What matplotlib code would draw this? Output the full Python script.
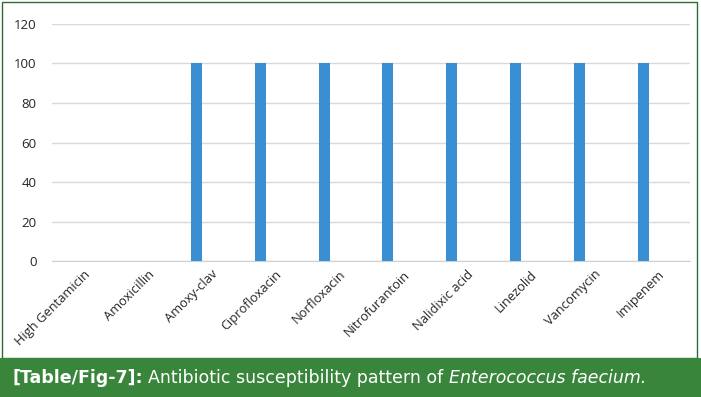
import matplotlib.pyplot as plt
from matplotlib.patches import Rectangle
import numpy as np

# chart data
drugs = ["High Gentamicin", "Amoxicillin", "Amoxy-clav", "Ciprofloxacin",
         "Norfloxacin", "Nitrofurantoin", "Nalidixic acid", "Linezolid",
         "Vancomycin", "Imipenem"]
susceptible = [0, 0, 100, 100, 100, 100, 100, 100, 100, 100]
y_ticks = [0, 20, 40, 60, 80, 100, 120]

bar_color = "#3a8fd3"
green = "#3a853c"

fig = plt.figure(figsize=(7.01, 3.97), dpi=100)
W, H = 701, 397

ax = fig.add_axes([52 / W, 1 - 261 / H, (690 - 52) / W, (261 - 24) / H])
x = np.arange(len(drugs))
ax.bar(x - 0.235, susceptible, width=0.175, color=bar_color, zorder=3)
ax.set_xlim(-0.5, len(drugs) - 0.5)
ax.set_ylim(0, 120)
ax.set_yticks(y_ticks)
ax.set_yticklabels([str(t) for t in y_ticks], fontsize=9.5, color="#262626",
                   family="Open Sans")
ax.set_xticks(x)
ax.set_xticklabels(drugs, rotation=45, ha="right", rotation_mode="anchor",
                   fontsize=9.3, color="#262626", family="Open Sans")
ax.tick_params(axis="both", length=0)
ax.tick_params(axis="y", pad=11)
ax.tick_params(axis="x", pad=5)
ax.grid(axis="y", color="#d9d9d9", linewidth=1, zorder=0)
for s in ["top", "right", "left"]:
    ax.spines[s].set_visible(False)
ax.spines["bottom"].set_color("#d0d0d0")

# outer frame and caption bar
fig.patches.append(Rectangle((2 / W, 1 - 358 / H), 695 / W, 356 / H,
                             transform=fig.transFigure, fill=False,
                             edgecolor="#2f6b35", linewidth=1))
fig.patches.append(Rectangle((0, 0), 1, 39 / H, transform=fig.transFigure,
                             facecolor=green, edgecolor="none"))

fam = ["DejaVu Sans"]
y_cap = 1 - 378 / H
t1 = fig.text(12 / W, y_cap, "[Table/Fig-7]:", color="white", fontsize=12.5,
              weight="bold", family=fam, va="center")
fig.canvas.draw()
r = fig.canvas.get_renderer()
bb = t1.get_window_extent(r)
t2 = fig.text((bb.x1 + 5) / W, y_cap, "Antibiotic susceptibility pattern of ",
              color="white", fontsize=12.5, family=fam, va="center")
bb2 = t2.get_window_extent(r)
fig.text((bb2.x1 + 1) / W, y_cap, "Enterococcus faecium.", color="white",
         fontsize=12.5, style="italic", family=fam, va="center")

fig.savefig("out.png", dpi=100)
